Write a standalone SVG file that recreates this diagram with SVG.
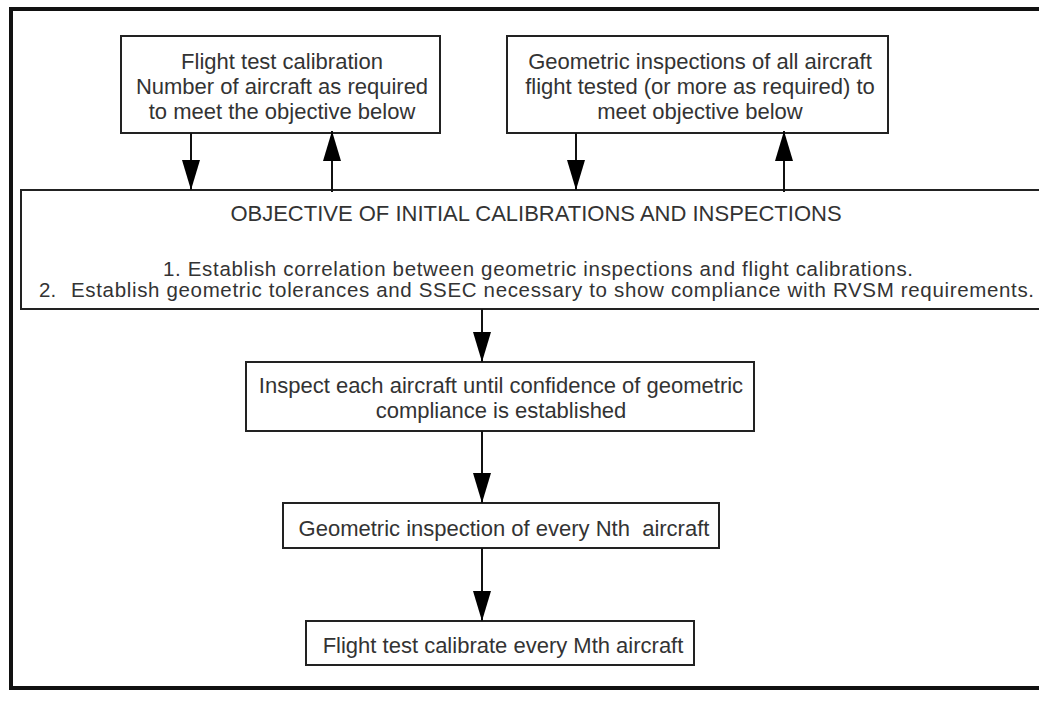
<svg xmlns="http://www.w3.org/2000/svg" width="1039" height="717" viewBox="0 0 1039 717">
<style>
.frame{fill:none;stroke:#111;stroke-width:4}
.box{fill:#fff;stroke:#222;stroke-width:2}
.t{font-family:"Liberation Sans",Arial,sans-serif;font-size:22px;fill:#333;text-anchor:middle}
.ts{font-family:"Liberation Sans",Arial,sans-serif;font-size:20.5px;fill:#333;text-anchor:start}
.c{fill:none;stroke:#111;stroke-width:2}
</style>
<defs>
<marker id="ah" markerUnits="userSpaceOnUse" markerWidth="30" markerHeight="18" refX="30" refY="9" orient="auto" viewBox="0 0 30 18">
<path d="M0,0 L30,9 L0,18 z" fill="#000"/>
</marker>
</defs>
<rect width="1039" height="717" fill="#fff"/>
<rect class="frame" x="11" y="9" width="1100" height="679"/>
<g id="flight-test-calibration">
<rect class="box" x="121" y="36" width="319" height="97"/>
<text class="t" x="282" y="69">Flight test calibration</text>
<text class="t" x="282" y="94">Number of aircraft as required</text>
<text class="t" x="282" y="119">to meet the objective below</text>
</g>
<g id="geometric-inspections">
<rect class="box" x="507" y="36" width="381" height="97"/>
<text class="t" x="700" y="69">Geometric inspections of all aircraft</text>
<text class="t" x="700" y="94">flight tested (or more as required) to</text>
<text class="t" x="700" y="119">meet objective below</text>
</g>
<g id="objective">
<rect class="box" x="21" y="190" width="1050" height="119"/>
<text class="t" x="536" y="221">OBJECTIVE OF INITIAL CALIBRATIONS AND INSPECTIONS</text>
<text class="ts" x="163" y="276" textLength="750">1. Establish correlation between geometric inspections and flight calibrations.</text>
<text class="ts" y="297"><tspan x="39">2.</tspan><tspan x="71" textLength="963">Establish geometric tolerances and SSEC necessary to show compliance with RVSM requirements.</tspan></text>
</g>
<g id="inspect-each">
<rect class="box" x="246" y="362" width="508" height="69"/>
<text class="t" x="501" y="393">Inspect each aircraft until confidence of geometric</text>
<text class="t" x="501" y="418">compliance is established</text>
</g>
<g id="every-nth">
<rect class="box" x="283" y="503" width="436" height="45"/>
<text class="t" x="504" y="536" xml:space="preserve">Geometric inspection of every Nth  aircraft</text>
</g>
<g id="every-mth">
<rect class="box" x="306" y="621" width="388" height="44"/>
<text class="t" x="503" y="653">Flight test calibrate every Mth aircraft</text>
</g>
<g id="connectors">
<line class="c" x1="191" y1="133" x2="191" y2="190" marker-end="url(#ah)"/>
<line class="c" x1="332" y1="192" x2="332" y2="131" marker-end="url(#ah)"/>
<line class="c" x1="576" y1="133" x2="576" y2="190" marker-end="url(#ah)"/>
<line class="c" x1="784" y1="192" x2="784" y2="131" marker-end="url(#ah)"/>
<line class="c" x1="482" y1="309" x2="482" y2="362" marker-end="url(#ah)"/>
<line class="c" x1="482" y1="431" x2="482" y2="503" marker-end="url(#ah)"/>
<line class="c" x1="482" y1="548" x2="482" y2="621" marker-end="url(#ah)"/>
</g>
</svg>
